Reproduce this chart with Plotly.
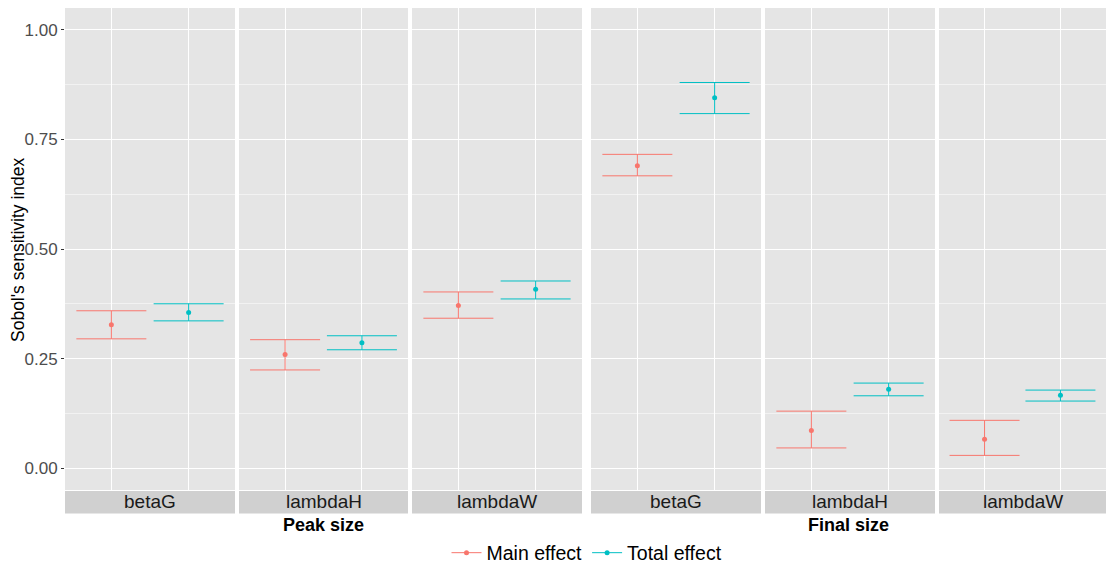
import plotly.graph_objects as go

# ---- data ----
params = ["betaG", "lambdaH", "lambdaW"]
groups = ["Peak size", "Final size"]
effects = ["Main effect", "Total effect"]

peak_main = [0.327, 0.259, 0.371]
peak_main_lo = [0.295, 0.224, 0.342]
peak_main_hi = [0.359, 0.293, 0.402]
peak_total = [0.355, 0.286, 0.408]
peak_total_lo = [0.336, 0.270, 0.386]
peak_total_hi = [0.375, 0.302, 0.427]

final_main = [0.690, 0.086, 0.066]
final_main_lo = [0.667, 0.046, 0.029]
final_main_hi = [0.716, 0.130, 0.109]
final_total = [0.845, 0.180, 0.166]
final_total_lo = [0.809, 0.165, 0.153]
final_total_hi = [0.880, 0.194, 0.178]

y_ticks = [0.0, 0.25, 0.5, 0.75, 1.0]
y_minor = [0.125, 0.375, 0.625, 0.875]
y_title = "Sobol's sensitivity index"

colors = {"Main effect": "#F8766D", "Total effect": "#00BFC4"}

series = {
    ("Peak size", "Main effect"): (peak_main, peak_main_lo, peak_main_hi),
    ("Peak size", "Total effect"): (peak_total, peak_total_lo, peak_total_hi),
    ("Final size", "Main effect"): (final_main, final_main_lo, final_main_hi),
    ("Final size", "Total effect"): (final_total, final_total_lo, final_total_hi),
}

# ---- layout geometry ----
W, H = 1106, 568
ML, MR, MT, MB = 65, 0, 8, 78
PW = W - ML - MR
PH = H - MT - MB
panels_px = [(65, 235), (239, 408), (412, 582), (591, 761), (765, 935), (939, 1106)]


def fx(px):
    return (px - ML) / PW


def fy(py):
    return (MT + PH - py) / PH


fig = go.Figure()
layout = {}
shapes = []
annotations = []

k = 0
for g in groups:
    for pi, p in enumerate(params):
        k += 1
        xa = "x" if k == 1 else f"x{k}"
        ya = "y" if k == 1 else f"y{k}"
        for ei, e in enumerate(effects):
            mean, lo, hi = series[(g, e)]
            fig.add_trace(go.Scatter(
                x=[ei + 1], y=[mean[pi]],
                mode="lines+markers",
                marker=dict(color=colors[e], size=5),
                line=dict(color=colors[e], width=1),
                error_y=dict(type="data", symmetric=False,
                             array=[hi[pi] - mean[pi]],
                             arrayminus=[mean[pi] - lo[pi]],
                             color=colors[e], thickness=1, width=35),
                name=e, legendgroup=e, showlegend=(k == 1),
                xaxis=xa, yaxis=ya, hoverinfo="skip",
            ))
        x0, x1 = panels_px[k - 1]
        layout[f"xaxis{'' if k == 1 else k}"] = dict(
            domain=[fx(x0), fx(x1)], range=[0.4, 2.6], anchor=ya,
            tickvals=[1, 2], showticklabels=False, ticks="",
            showgrid=True, gridcolor="white", gridwidth=1.1,
            zeroline=False, showline=False, automargin=False,
        )
        ydict = dict(
            domain=[0, 1], range=[-0.05, 1.05], anchor=xa,
            tickvals=y_ticks, showgrid=True, gridcolor="white", gridwidth=1.1,
            minor=dict(tickvals=y_minor, showgrid=True, gridcolor="#F2F2F2", gridwidth=0.6),
            zeroline=False, showline=False, automargin=False,
        )
        if k == 1:
            ydict.update(dict(
                ticks="outside", ticklen=3, tickcolor="#333333", tickwidth=1,
                tickformat=".2f", tickfont=dict(size=17, color="#4D4D4D"),
            ))
        else:
            ydict.update(dict(matches="y", showticklabels=False, ticks=""))
        layout[f"yaxis{'' if k == 1 else k}"] = ydict

        # strip
        shapes.append(dict(type="rect", xref="paper", yref="paper",
                           x0=fx(x0), x1=fx(x1), y0=fy(491), y1=fy(513.5),
                           fillcolor="#D0D0D0", line=dict(width=0), layer="below"))
        annotations.append(dict(text=p, xref="paper", yref="paper",
                                x=(fx(x0) + fx(x1)) / 2, y=fy(502),
                                xanchor="center", yanchor="middle", showarrow=False,
                                font=dict(size=19, color="#1A1A1A")))

# group labels
for gi, g in enumerate(groups):
    x0 = panels_px[gi * 3][0]
    x1 = panels_px[gi * 3 + 2][1]
    annotations.append(dict(text=f"<b>{g}</b>", xref="paper", yref="paper",
                            x=(fx(x0) + fx(x1)) / 2, y=fy(525),
                            xanchor="center", yanchor="middle", showarrow=False,
                            font=dict(size=18, color="black")))

# y-axis title
annotations.append(dict(text=y_title, xref="paper", yref="paper",
                        x=fx(18), y=fy(250), textangle=-90,
                        xanchor="center", yanchor="middle", showarrow=False,
                        font=dict(size=17.5, color="black")))

fig.update_layout(
    width=W, height=H,
    margin=dict(l=ML, r=MR, t=MT, b=MB, autoexpand=False),
    paper_bgcolor="white", plot_bgcolor="#E5E5E5",
    font=dict(family="Liberation Sans, Arial, sans-serif"),
    shapes=shapes, annotations=annotations,
    legend=dict(orientation="h", x=587 / W, xanchor="center", xref="container",
                y=1 - 553 / H, yanchor="middle", yref="container",
                font=dict(size=19.5, color="black"),
                itemwidth=30, bgcolor="rgba(0,0,0,0)", tracegroupgap=0),
    showlegend=True,
    **layout,
)

fig.write_html("out.html", config={"displayModeBar": False},
               post_script="document.body.style.margin='0';document.body.style.overflow='hidden';")
